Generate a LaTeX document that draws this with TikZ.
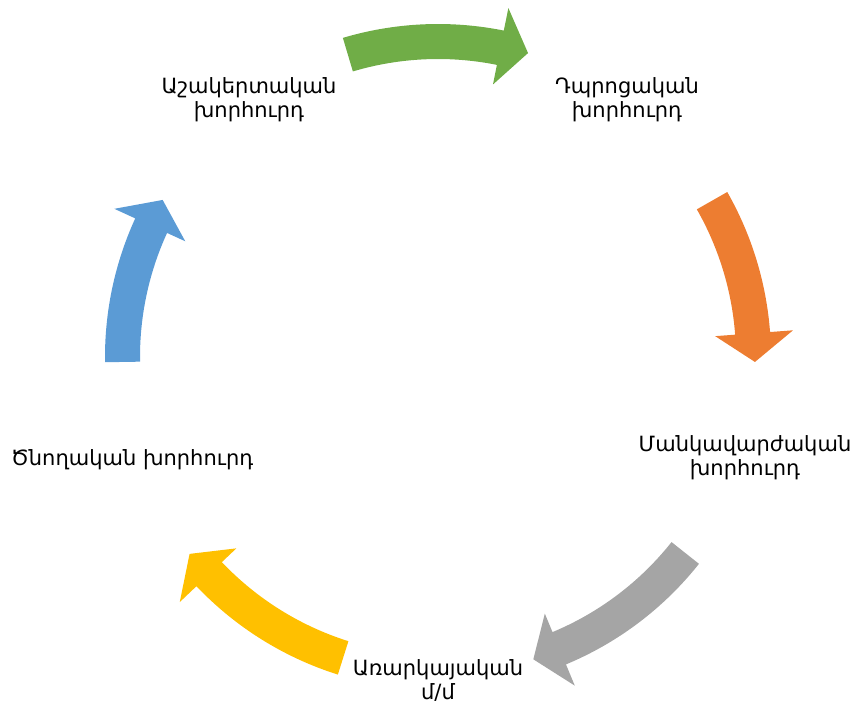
\documentclass[tikz,border=0pt]{standalone}
\usepackage{fontspec}
\setmainfont{DejaVu Sans}
\definecolor{cgreen}{HTML}{70AD47}
\definecolor{corange}{HTML}{ED7D31}
\definecolor{cgray}{HTML}{A5A5A5}
\definecolor{cyellow}{HTML}{FFC000}
\definecolor{cblue}{HTML}{5B9BD5}
% #1 colour, #2 tail angle, #3 head-base angle, #4 tip angle
\newcommand{\cycarrow}[4]{%
  \fill[#1, shift={(438,350)}]
    (#2:333pt) arc[start angle=#2, end angle=#3, radius=333pt]
    -- (#3:356pt) -- (#4:317pt) -- (#3:278pt) -- (#3:298pt)
    arc[start angle=#3, end angle=#2, radius=298pt] -- cycle;}
\tikzset{lbl/.style={align=center, inner sep=0pt, font=\fontsize{21}{24}\selectfont}}
\begin{document}
\begin{tikzpicture}[x=1pt,y=1pt]
\useasboundingbox (0,0) rectangle (854,707);
\cycarrow{cgreen}{106.6}{78.6}{73.5}
\cycarrow{corange}{29.7}{4.3}{-0.9}
\cycarrow{cgray}{-38.4}{-67.4}{-72.5}
\cycarrow{cyellow}{-107.5}{-136.5}{-141.6}
\cycarrow{cblue}{180.9}{155.4}{150.3}
\node[lbl] (n1) at (249,607) {Աշակերտական\\խորհուրդ};
\node[lbl] (n2) at (627,607) {Դպրոցական\\խորհուրդ};
\node[lbl] (n3) at (745,249) {Մանկավարժական\\խորհուրդ};
\node[lbl] (n4) at (438,27) {Առարկայական\\մ/մ};
\node[lbl] (n5) at (132,247) {Ծնողական խորհուրդ};
\end{tikzpicture}
\end{document}
